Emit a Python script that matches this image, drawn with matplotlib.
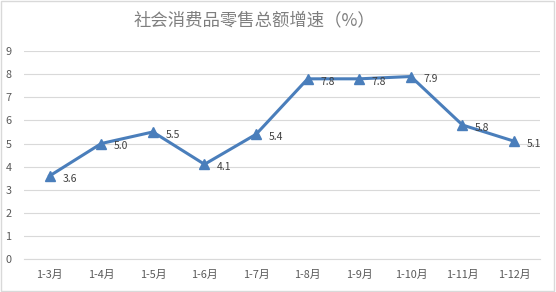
import matplotlib.pyplot as plt
from matplotlib.patches import Rectangle

plt.rcParams['font.family'] = ['Noto Sans CJK SC', 'DejaVu Sans']

months = ["1-3月", "1-4月", "1-5月", "1-6月", "1-7月", "1-8月", "1-9月", "1-10月", "1-11月", "1-12月"]
growth = [3.6, 5.0, 5.5, 4.1, 5.4, 7.8, 7.8, 7.9, 5.8, 5.1]
yTicks = list(range(0, 10))

lineColor = "#4A7EBB"
textColor = "#595959"

figure = plt.figure(figsize=(5.56, 2.92), dpi=100)
axis = figure.add_axes([0.043, 0.113, 0.928, 0.712])

xs = list(range(len(months)))
axis.plot(xs, growth, color=lineColor, linewidth=2.2, marker="^", markersize=7,
          markerfacecolor=lineColor, markeredgecolor=lineColor, zorder=3)

for x, y in zip(xs, growth):
    axis.annotate(f"{y:.1f}", (x, y), xytext=(9, -2), textcoords="offset points",
                  fontsize=7.5, color="#404040", va="center", ha="left")

axis.set_xlim(-0.5, len(months) - 0.5)
axis.set_ylim(0, 9)
axis.set_yticks(yTicks)
axis.set_xticks(xs)
axis.set_xticklabels(months)
axis.grid(axis="y", color="#D9D9D9", linewidth=0.8)
axis.set_axisbelow(True)
for side in ["top", "right", "left"]:
    axis.spines[side].set_visible(False)
axis.spines["bottom"].set_color("#D9D9D9")
axis.tick_params(axis="both", length=0, labelsize=7.8, colors=textColor)
axis.tick_params(axis="x", pad=8)
axis.tick_params(axis="y", pad=9)

figure.text(0.457, 0.93, "社会消费品零售总额增速（%）", ha="center", va="center",
            fontsize=12.5, color="#7F7F7F")

figure.patches.append(Rectangle((0.002, 0.003), 0.995, 0.993, transform=figure.transFigure,
                                fill=False, edgecolor="#D9D9D9", linewidth=1))

figure.savefig("out.png", dpi=100)
